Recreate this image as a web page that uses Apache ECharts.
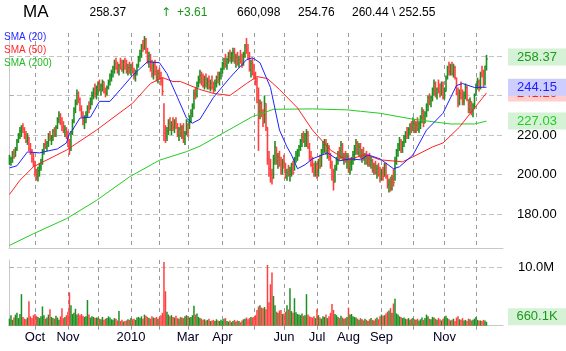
<!DOCTYPE html>
<html><head><meta charset="utf-8">
<script src="https://cdn.jsdelivr.net/npm/echarts@6/dist/echarts.min.js"></script>
<style>html,body{margin:0;padding:0;background:#fff}#c{width:566px;height:351px}</style>
</head><body><div id="c"></div>
<script>
// ---------- data (trading-day index 0 = 8 Sep 2009) ----------
const symbol = 'MA';
const monthStarts = [17,39,59,81,100,119,142,163,183,205,226,248,269,290,311];
const monthLabels = ['Oct','Nov','','2010','','Mar','Apr','','Jun','Jul','Aug','Sep','','Nov',''];
const priceTicks = [180,200,220,240,260];
const volumeTicks = [10]; // millions

const high = [
210,209,212,213,214,218,221,224,225,226,224,222,221,219,216,213,211,
207,203,204,206,208,213,216,218,217,221,222,220,223,224,225,229,232,231,229,227,225,224,
222,218,222,228,234,238,243,242,239,235,232,230,232,235,237,239,242,244,246,245,
247,248,246,248,247,244,245,248,251,253,255,258,259,257,256,259,258,258,259,258,256,257,
256,257,254,253,256,260,263,266,268,270,269,264,262,261,258,257,258,255,253,
254,252,249,236,225,224,228,229,227,229,228,229,226,224,226,225,226,222,228,
226,230,233,236,243,244,247,250,253,252,251,250,251,249,250,248,250,247,248,250,252,252,254,
257,259,261,259,262,263,262,264,264,261,262,260,263,261,262,266,269,266,262,258,259,
256,252,249,244,238,237,233,240,236,224,212,208,203,210,217,214,211,212,209,208,
210,206,203,205,204,206,207,209,212,213,215,218,221,222,221,223,222,216,212,209,206,207,
206,208,210,213,217,218,218,216,215,211,207,203,205,209,212,214,217,216,211,212,211,
210,208,209,212,215,218,217,216,216,213,214,211,212,210,211,209,208,206,207,205,206,204,
203,204,206,206,200,198,199,200,203,209,213,216,219,218,217,220,222,224,224,226,227,
229,228,227,229,227,230,234,233,232,236,240,241,240,244,248,247,244,248,246,247,247,
244,250,255,257,256,257,256,255,249,244,243,247,243,242,246,245,238,239,237,236,241,
246,249,248,252,255,253,255,260.44];
const low = [
205,204.5,206,208,209,212,216,218,219,221,218,216,215,212,210,206,204,
199,197,196.5,199,202,205,210,213,212,214,217,215,217,219,219,223,226,225,222,221,219,218,
214,210,212,220,226,231,235,236,232,229,225,223,226,229,231,233,235,238,239,238,
240,242,240,242,241,239,240,243,245,247,249,251,253,251,250,253,252,251,253,251,250,251,
250,251,248,247,250,254,257,259,262,263,261,256,254,252,249,248,250,247,246,
248,245,240,217,216,217,220,222,220,222,221,223,219,217,219,218,216,215,220,
219,223,226,229,233,238,239,244,246,245,244,243,244,243,243,242,243,241,242,244,246,245,248,
251,253,254,253,256,257,256,257,256,254,255,254,256,254,255,259,261,258,252,249,250,
248,245,236,212,228,229,224,226,222,205,199,196,195,198,205,205,203,204,200,200,
203,198,197,199,196.5,199,200,202,206,207,209,212,214,216,214,214,213,207,204,201,199,199,
198,199,203,204,210,211,210,208,207,203,197,192,196,202,205,207,208,207,205,206,203,
201,200,202,205,207,210,210,209,208,206,207,205,205,204,204,203,201,200,200,198,199,196,
197,197,199,198,193,191,191.5,192,194,197,205,209,212,211,211,214,216,218,218,220,221,
222,221,221,222,221,223,226,224,226,229,232,235,234,237,240,239,238,241,239,240,238,
238,242,248,250,250,250,249,248,240,234,235,238,235,235,238,237,231,231,230,229,233,
240,243,242,243,249,244,245,252.55];
const close = [
206,208,211,209,213,217,220,222,224,223,219,217,219,213,211,208,205,
201,199,202,204,206,212,215,214,216,220,218,219,222,220,224,228,230,226,224,222,223,219,
216,213,221,227,233,236,241,238,233,231,227,229,230,234,233,238,240,243,241,244,
246,243,245,247,242,241,244,247,250,252,254,256,254,252,255,254,253,257,255,252,254,253,
255,252,250,251,255,259,261,265,264,268,262,258,260,254,251,255,252,249,251,
249,247,242,221,219,222,226,223,225,224,226,224,220,223,221,224,218,221,227,
225,229,231,235,241,240,246,248,250,247,245,248,246,247,244,246,244,243,246,249,248,251,253,
256,258,255,258,261,259,261,262,257,259,256,258,257,255,261,265,263,259,253,256,251,
250,247,240,232,236,231,226,236,224,208,203,200,198,208,214,207,209,205,202,206,
204,199,201,200,202,205,201,208,210,212,214,217,219,217,220,221,214,209,205,203,201,205,
200,207,204,212,215,216,212,214,209,205,199,196,203,207,211,209,215,208,209,207,209,
203,206,207,210,213,216,211,214,209,210,208,209,206,208,205,207,202,204,201,203,200,198,
201,199,205,199,195,196,193,198,196,207,212,215,217,213,216,219,221,220,223,225,224,
226,222,225,223,226,229,232,226,231,235,239,237,239,243,246,241,243,242,240,245,239,
242,249,254,252,255,251,254,249,241,236,241,239,237,240,244,238,233,237,232,235,240,
245,247,244,251,250,246,254.76,258.37];
const volumeM = [
1.2,1.8,1.0,1.4,1.9,2.2,1.3,2.0,5.4,1.5,1.2,1.1,1.4,4.2,1.6,1.3,1.8,
2.0,1.7,1.5,1.3,1.6,3.3,1.8,1.2,1.4,1.9,2.8,1.5,1.3,1.2,1.7,1.4,1.0,1.6,3.0,1.3,1.5,1.8,
2.4,5.7,3.5,2.0,2.2,2.9,1.9,2.1,1.8,2.0,1.7,1.5,1.6,4.4,1.9,1.4,1.6,1.5,1.3,1.4,
1.4,1.2,1.1,1.5,1.0,1.2,1.3,1.6,1.4,1.1,1.0,1.3,1.2,0.9,2.5,0.8,1.0,0.7,0.8,0.9,1.1,1.0,
1.3,1.1,1.2,1.0,1.4,1.5,1.3,1.6,1.2,1.9,1.7,1.5,1.3,1.2,1.6,1.4,1.3,1.5,1.2,
1.5,1.8,2.2,10.9,5.9,2.4,1.9,1.6,1.8,1.5,1.4,1.7,1.3,1.2,1.5,1.4,1.3,1.6,1.8,
1.6,1.4,1.5,1.8,3.4,1.9,2.1,1.5,1.3,1.2,1.0,1.1,0.9,1.0,1.2,0.8,0.9,1.0,0.8,1.1,0.9,0.8,1.0,
0.9,1.2,1.3,0.8,0.7,0.9,0.6,0.8,1.0,0.7,0.9,0.8,0.6,0.9,1.1,1.2,1.4,1.1,1.3,1.5,1.4,
1.5,1.8,2.7,3.3,3.5,3.1,3.0,3.2,2.8,10.4,4.0,7.1,9.1,5.1,3.5,2.4,2.2,2.6,2.7,2.0,
2.1,2.4,3.5,2.8,6.4,2.5,2.2,4.7,2.3,2.0,1.9,1.8,2.1,1.7,1.8,5.4,1.9,1.6,1.5,1.4,1.6,1.3,
2.8,1.8,1.4,1.2,1.6,1.5,1.9,1.3,1.6,2.2,3.7,2.7,2.0,1.8,1.5,1.3,1.7,1.4,1.2,1.3,1.5,
3.1,1.9,2.0,1.6,1.5,1.4,1.2,1.0,1.3,1.1,0.9,1.2,1.0,0.8,1.1,1.3,1.0,0.9,1.2,1.4,1.1,1.6,
1.9,1.7,1.8,2.1,2.4,2.6,3.0,2.2,3.8,4.6,2.1,1.9,1.6,1.5,1.3,1.4,1.2,1.1,1.3,1.0,1.2,
1.3,1.1,1.0,1.2,0.9,1.1,1.4,1.0,1.3,1.9,1.6,1.2,1.1,1.5,1.4,1.2,1.0,1.3,1.1,0.9,1.2,
1.5,1.7,1.3,1.1,0.9,1.0,1.2,0.8,1.4,1.6,1.1,1.0,1.3,0.9,1.0,0.8,1.2,1.1,0.9,1.0,1.2,
1.5,1.0,0.9,0.9,0.8,1.0,0.9,0.660098];

// moving averages: [day index, value]
const sma20 = [[0,203.4],[5,204.5],[12,211.5],[20,211],[32,213],[38,216],[40,221],[42,222.5],[47,228.6],[54,229],[60,237],[67,237],[74,243],[82,250],[92,257],[100,256.5],[105,251],[112,239],[118,228.6],[122,226],[127,228],[136,239],[147,249],[158,258],[162,259],[167,256.5],[174,244],[180,222.5],[185,214],[188,210],[192,203],[197,205],[202,208],[212,211],[220,207],[227,208],[234,207.5],[239,210],[247,208],[256,203],[260,204],[269,210],[278,222.5],[289,231],[298,245],[302,246],[310,244],[318,244.15]];
const sma50 = [[0,190],[7,197.2],[16,204],[38,212.4],[58,222.5],[82,236],[94,246],[102,249],[109,247],[114,247],[127,243],[136,241],[147,240],[158,246],[165,249.5],[172,248.5],[180,243],[192,233.7],[202,222.5],[214,212.4],[225,207.3],[234,209.4],[238,210],[247,207.5],[262,206.5],[269,209],[282,214],[289,216],[300,224],[309,232.7],[318,241.26]];
const sma200 = [[0,164.3],[16,170.2],[38,177.8],[58,187],[80,198.9],[100,207.3],[118,211.6],[127,214.4],[142,220.8],[162,229.3],[176,233],[202,233.2],[225,232.7],[234,232],[247,231],[269,228],[294,225.6],[310,225.6],[318,227.03]];

// ---------- chart ----------
const FONT = '"Liberation Sans", Arial, sans-serif';
const UP = '#1e8e1e', DOWN = '#ff4040';
const N = close.length;
const xMin = -0.3, xMax = 329;
const bars = close.map((c, i) => [i, high[i], low[i], c]);
const isUp = close.map((c, i) => i === 0 ? true : c >= close[i - 1]);
const vol = volumeM.map((v, i) => ({ value: [i, v], itemStyle: { color: isUp[i] ? UP : DOWN } }));
const labelMap = {};
monthStarts.forEach((d, i) => { if (monthLabels[i]) labelMap[d] = monthLabels[i]; });
const labeledStarts = monthStarts.filter((d, i) => monthLabels[i]);

const last = close[N - 1], prev = close[N - 2];
const lastVol = Math.round(volumeM[N - 1] * 1e6);

function boxMark(yv, text, color, bg, dy) {
  return {
    symbol: 'rect', symbolSize: [1, 1], silent: true,
    itemStyle: { color: 'rgba(0,0,0,0)' },
    label: { show: true, position: 'inside', offset: [34, dy || 0], formatter: text, color: color,
      backgroundColor: bg, fontSize: 13, fontFamily: FONT, width: 50, height: 13, lineHeight: 13,
      padding: [2, 4, 2, 4], align: 'center', verticalAlign: 'middle' },
    data: [{ coord: [xMax, yv] }]
  };
}
function lineSeries(name, data, color, z, bg) {
  const lv = data[data.length - 1][1];
  return { type: 'line', name: name, xAxisIndex: 0, yAxisIndex: 0, data: data, showSymbol: false,
    symbol: 'none', z: z, lineStyle: { color: color, width: 1 }, itemStyle: { color: color },
    markPoint: Object.assign(boxMark(lv, lv.toFixed(2), color, bg, 0), { z: z + 10 }) };
}

const hdr = (x, text, color, font) => ({ type: 'text', x: x, y: 12.5,
  style: { text: text, fill: color || '#000', font: font || ('12px ' + FONT), verticalAlign: 'middle' } });

const chart = echarts.init(document.getElementById('c'), null, { renderer: 'canvas' });
chart.setOption({
  animation: false,
  backgroundColor: '#fff',
  textStyle: { fontFamily: FONT },
  graphic: [
    hdr(23, symbol, '#000', '17px ' + FONT),
    hdr(89.5, last.toFixed(2)),
    hdr(161, '\u2191', '#1a961a', '12px "DejaVu Sans", sans-serif'),
    hdr(177, (last - prev >= 0 ? '+' : '') + (last - prev).toFixed(2), '#1a961a'),
    hdr(237, lastVol.toLocaleString('en-US')),
    hdr(298, prev.toFixed(2)),
    hdr(352, high[N - 1].toFixed(2) + ' \\ ' + low[N - 1].toFixed(2))
  ],
  legend: {
    orient: 'vertical', left: -1, top: 30.5, padding: 0, itemGap: 0, itemWidth: 0, itemHeight: 0,
    selectedMode: false, icon: 'rect',
    textStyle: { fontSize: 10, lineHeight: 13, fontFamily: FONT },
    data: [
      { name: 'SMA (20)', textStyle: { color: '#2a2aff' } },
      { name: 'SMA (50)', textStyle: { color: '#ff2a2a' } },
      { name: 'SMA (200)', textStyle: { color: '#22bb22' } }
    ]
  },
  grid: [
    { left: 9, right: 63, top: 33, height: 215, outerBoundsMode: 'none' },
    { left: 9, right: 63, top: 260, height: 65.7, outerBoundsMode: 'none' }
  ],
  xAxis: [
    { type: 'value', gridIndex: 0, min: xMin, max: xMax,
      axisLine: { show: true, lineStyle: { color: '#c8c8c8' } },
      axisTick: { show: false, customValues: monthStarts },
      axisLabel: { show: false },
      splitLine: { show: true, lineStyle: { color: '#999', type: [4, 4], width: 1 } } },
    { type: 'value', gridIndex: 1, min: xMin, max: xMax,
      axisLine: { show: true, lineStyle: { color: '#c8c8c8' } },
      axisTick: { show: true, length: 4, customValues: monthStarts, lineStyle: { color: '#999' } },
      axisLabel: { customValues: labeledStarts, formatter: v => labelMap[v] || '', fontSize: 13,
        color: '#000022', margin: 5, fontFamily: FONT },
      splitLine: { show: true, lineStyle: { color: '#999', type: [4, 4], width: 1 } } }
  ],
  yAxis: [
    { type: 'value', gridIndex: 0, position: 'right', min: 163, max: 271.5,
      axisLine: { show: true, lineStyle: { color: '#c8c8c8' } },
      axisTick: { show: true, length: 4, customValues: priceTicks, lineStyle: { color: '#aaa' } },
      axisLabel: { customValues: priceTicks, formatter: v => v.toFixed(2), fontSize: 13, color: '#000',
        margin: 14, fontFamily: FONT },
      splitLine: { show: true, lineStyle: { color: '#c4c4c4', type: [5, 3], width: 1 } } },
    { type: 'value', gridIndex: 1, position: 'right', min: 0, max: 11.25,
      axisLine: { show: true, lineStyle: { color: '#c8c8c8' } },
      axisTick: { show: true, length: 4, customValues: volumeTicks, lineStyle: { color: '#aaa' } },
      axisLabel: { customValues: volumeTicks, formatter: v => v.toFixed(1) + 'M', fontSize: 13, color: '#000',
        margin: 15, fontFamily: FONT },
      splitLine: { show: true, lineStyle: { color: '#c4c4c4', type: [5, 3], width: 1 } } }
  ],
  series: [
    { type: 'custom', name: 'price', xAxisIndex: 0, yAxisIndex: 0, data: bars, z: 3,
      encode: { x: 0, y: [1, 2] },
      renderItem: function (params, api) {
        const d = api.value(0);
        const pH = api.coord([d, api.value(1)]);
        const pL = api.coord([d, api.value(2)]);
        const pC = api.coord([d, api.value(3)]);
        const x = pH[0];
        const col = isUp[params.dataIndex] ? UP : DOWN;
        return { type: 'group', children: [
          { type: 'line', shape: { x1: x, y1: pH[1], x2: x, y2: pL[1] }, style: { stroke: col, lineWidth: 1.6 } },
          { type: 'line', shape: { x1: x, y1: pC[1], x2: x + 1.5, y2: pC[1] }, style: { stroke: col, lineWidth: 1 } }
        ] };
      },
      markPoint: Object.assign(boxMark(last, last.toFixed(2), '#1a9a1a', '#d6f2d6', -2), { z: 20 })
    },
    lineSeries('SMA (200)', sma200, '#22cc22', 4, '#d6f2d6'),
    lineSeries('SMA (50)', sma50, '#ff2222', 5, '#ffcfcf'),
    lineSeries('SMA (20)', sma20, '#2020ff', 6, '#cdcdff'),
    { type: 'bar', name: 'volume', xAxisIndex: 1, yAxisIndex: 1, data: vol, barWidth: 1.5, z: 3,
      markPoint: boxMark(volumeM[N - 1], (volumeM[N - 1] * 1000).toFixed(1) + 'K', '#1a9a1a', '#d6f2d6', -5) }
  ]
});
</script>
</body></html>
